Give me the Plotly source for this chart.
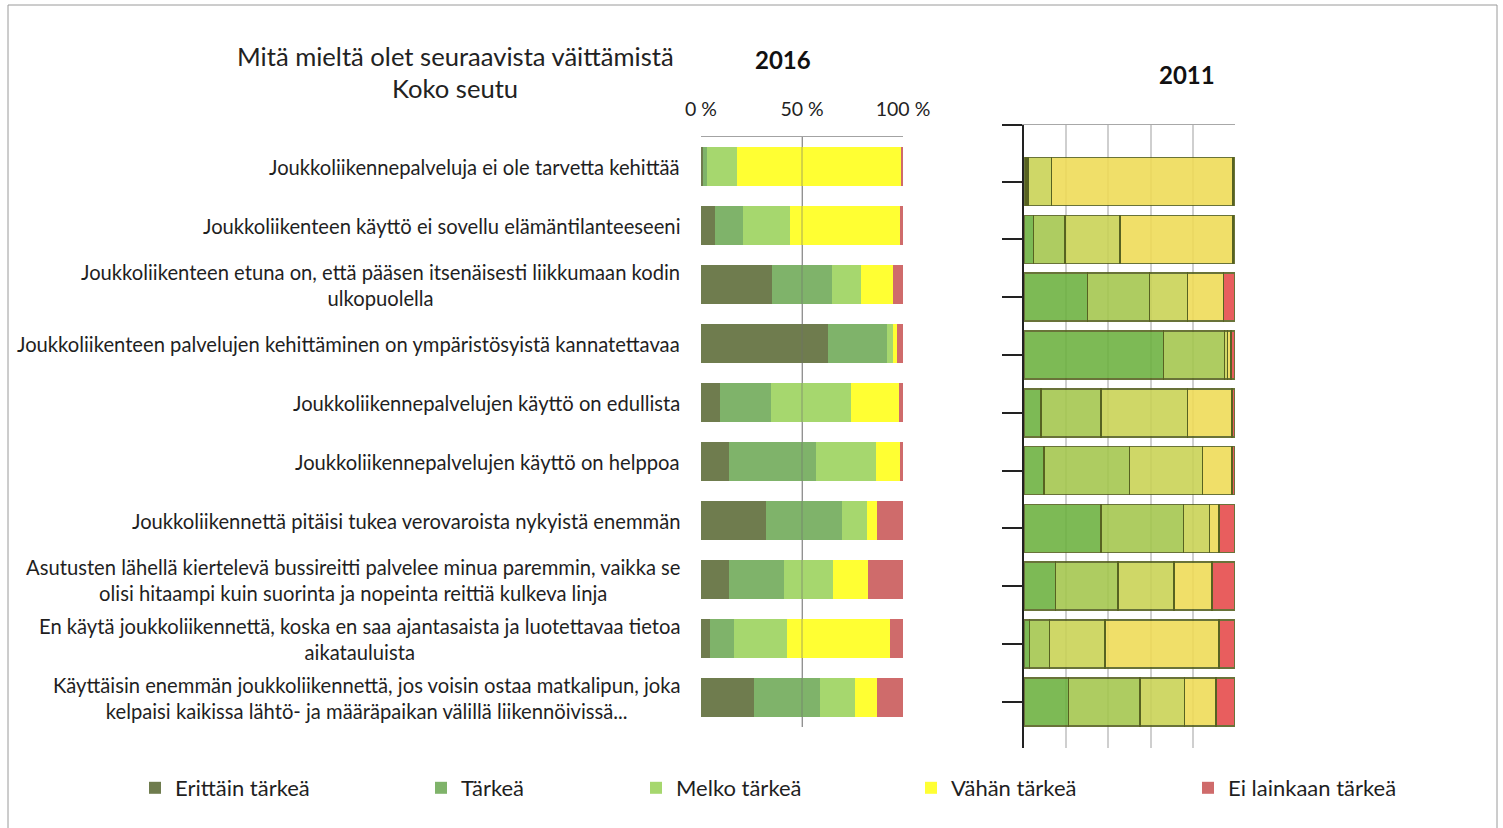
import plotly.graph_objects as go

categories = [
    "Joukkoliikennepalveluja ei ole tarvetta kehittää",
    "Joukkoliikenteen käyttö ei sovellu elämäntilanteeseeni",
    "Joukkoliikenteen etuna on, että pääsen itsenäisesti liikkumaan kodin<br>ulkopuolella",
    "Joukkoliikenteen palvelujen kehittäminen on ympäristösyistä kannatettavaa",
    "Joukkoliikennepalvelujen käyttö on edullista",
    "Joukkoliikennepalvelujen käyttö on helppoa",
    "Joukkoliikennettä pitäisi tukea verovaroista nykyistä enemmän",
    "Asutusten lähellä kiertelevä bussireitti palvelee minua paremmin, vaikka se<br>olisi hitaampi kuin suorinta ja nopeinta reittiä kulkeva linja",
    "En käytä joukkoliikennettä, koska en saa ajantasaista ja luotettavaa tietoa<br>aikatauluista",
    "Käyttäisin enemmän joukkoliikennettä, jos voisin ostaa matkalipun, joka<br>kelpaisi kaikissa lähtö- ja määräpaikan välillä liikennöivissä...",
]

series_names = ["Erittäin tärkeä", "Tärkeä", "Melko tärkeä", "Vähän tärkeä", "Ei lainkaan tärkeä"]

# 2016 (%)
erittain_2016 = [1, 7, 35, 63, 9.5, 14, 32, 14, 4.5, 26]
tarkea_2016 = [2, 14, 30, 29, 25, 43, 38, 27, 12, 33]
melko_2016 = [15, 23, 14, 3, 40, 29.5, 12, 24.5, 26, 17]
vahan_2016 = [81, 54.5, 16, 2, 23.5, 12, 5, 17, 51, 11]
ei_2016 = [1, 1.5, 5, 3, 2, 1.5, 13, 17.5, 6.5, 13]

# 2011 (%)
erittain_2011 = [1, 4.5, 30, 66, 8, 9.5, 36.5, 15, 2.5, 21]
tarkea_2011 = [1, 15, 29.5, 29, 28.5, 40.5, 39, 29.5, 9.5, 34]
melko_2011 = [11, 26, 18, 1.5, 41, 34.5, 12.5, 26.5, 26.5, 21]
vahan_2011 = [86, 53.5, 17, 1.5, 21, 14, 4.5, 18, 54, 15]
ei_2011 = [1, 1, 5.5, 2, 1.5, 1.5, 7.5, 11, 7.5, 9]

x_ticks_2016 = [0, 50, 100]
x_ticktext_2016 = ["0 %", "50 %", "100 %"]

colors_2016 = ["#6f7c4e", "#7fb36a", "#a6d76e", "#ffff33", "#cf6b6b"]
colors_2011 = ["#6cb13e", "#a3c64c", "#c9d253", "#efdb55", "#e54848"]

data_2016 = [erittain_2016, tarkea_2016, melko_2016, vahan_2016, ei_2016]
data_2011 = [erittain_2011, tarkea_2011, melko_2011, vahan_2011, ei_2011]

W, H = 1503, 828
FONT = "Lato"

def px_x(p):
    return p / W

def px_y(p):
    return 1 - p / H

legend_keys = ["legend", "legend2", "legend3", "legend4", "legend5"]
legend_text_x = [175, 461, 676, 951, 1228]

fig = go.Figure()

for i, name in enumerate(series_names):
    fig.add_trace(go.Bar(
        y=categories, x=data_2016[i], name=name, orientation="h",
        marker=dict(color=colors_2016[i], line=dict(width=0)),
        xaxis="x", yaxis="y", legend=legend_keys[i], showlegend=True,
    ))

for i, name in enumerate(series_names):
    fig.add_trace(go.Bar(
        y=categories, x=data_2011[i], name=name, orientation="h",
        marker=dict(color=colors_2011[i], line=dict(width=1.5, color="#55601e")),
        opacity=0.88, width=0.83,
        xaxis="x2", yaxis="y2", showlegend=False,
    ))

layout = dict(
    width=W, height=H, autosize=False,
    margin=dict(l=0, r=0, t=0, b=0, pad=0, autoexpand=False),
    paper_bgcolor="white", plot_bgcolor="white",
    barmode="stack",
    font=dict(family=FONT, color="#1f1f1f"),
    xaxis=dict(
        domain=[px_x(701), px_x(903)], range=[0, 100], side="top",
        tickmode="array", tickvals=x_ticks_2016, ticktext=x_ticktext_2016,
        ticks="", ticklabelstandoff=12, tickfont=dict(size=19.5, color="#222"),
        showgrid=True, gridcolor="#a3a3a3", gridwidth=1,
        showline=True, linecolor="#a3a3a3", linewidth=1, zeroline=False,
        fixedrange=True, automargin=False,
    ),
    yaxis=dict(
        domain=[px_y(727), px_y(137)], range=[9.5, -0.5], type="category",
        showticklabels=False, ticks="", showgrid=False, zeroline=False,
        showline=False, fixedrange=True, automargin=False,
    ),
    xaxis2=dict(
        domain=[px_x(1024), px_x(1235)], range=[0, 100], side="top",
        dtick=20, showticklabels=False, ticks="",
        showgrid=True, gridcolor="#cfcfcf", gridwidth=1.5,
        showline=True, linecolor="#a8a8a8", linewidth=1, zeroline=False,
        anchor="y2", fixedrange=True, automargin=False,
    ),
    yaxis2=dict(
        domain=[px_y(748), px_y(125)], range=[9.8, -0.98], type="category",
        anchor="x2", showticklabels=False,
        tickmode="array", tickvals=[-0.98] + list(range(len(categories))),
        ticks="outside", ticklen=20, tickwidth=2, tickcolor="#222",
        showline=True, linecolor="#222", linewidth=2,
        showgrid=False, zeroline=False, fixedrange=True, automargin=False,
    ),
    bargap=0.34,
    showlegend=True,
)

for k, tx in zip(legend_keys, legend_text_x):
    layout[k] = dict(
        x=px_x(tx - 40), y=px_y(788), xanchor="left", yanchor="middle",
        orientation="h", font=dict(size=22, color="#1f1f1f", family=FONT),
        bgcolor="rgba(0,0,0,0)", borderwidth=0,
    )

fig.update_layout(**layout)

# category labels
for c in categories:
    fig.add_annotation(
        x=px_x(682), xref="paper", y=c, yref="y",
        text=c, showarrow=False, xanchor="right", yanchor="middle",
        align="center", font=dict(size=20.2, color="#1f1f1f", family=FONT),
    )

# titles
fig.add_annotation(x=px_x(455), y=px_y(56), xref="paper", yref="paper",
                   text="Mitä mieltä olet seuraavista väittämistä", showarrow=False,
                   xanchor="center", yanchor="middle",
                   font=dict(size=25.6, color="#222", family=FONT))
fig.add_annotation(x=px_x(455), y=px_y(88), xref="paper", yref="paper",
                   text="Koko seutu", showarrow=False,
                   xanchor="center", yanchor="middle",
                   font=dict(size=25.6, color="#222", family=FONT))
fig.add_annotation(x=px_x(783), y=px_y(60), xref="paper", yref="paper",
                   text="<b>2016</b>", showarrow=False,
                   xanchor="center", yanchor="middle",
                   font=dict(size=24, color="#111", family=FONT))
fig.add_annotation(x=px_x(1187), y=px_y(75), xref="paper", yref="paper",
                   text="<b>2011</b>", showarrow=False,
                   xanchor="center", yanchor="middle",
                   font=dict(size=24, color="#111", family=FONT))

# 50 % gridline drawn over the bars as in the original
fig.add_shape(type="line", xref="x", yref="y domain", x0=50, x1=50, y0=0, y1=1,
              line=dict(color="rgba(110,110,110,0.6)", width=1), layer="above")

# outer frame
fig.add_shape(type="rect", xref="paper", yref="paper",
              x0=px_x(8), x1=px_x(1497), y0=-0.05, y1=px_y(5),
              line=dict(color="#9a9a9a", width=1), fillcolor="rgba(0,0,0,0)", layer="below")

fig.write_html(
    "out.html",
    config={"displayModeBar": False, "responsive": False},
    post_script="document.body.style.margin='0';document.body.style.overflow='hidden';",
)
